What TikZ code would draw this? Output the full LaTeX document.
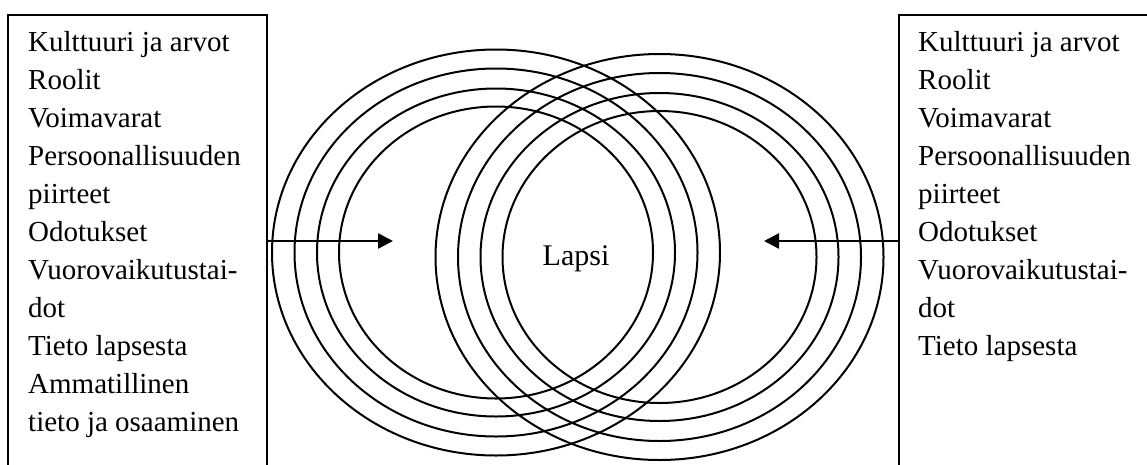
\documentclass[tikz,border=0pt]{standalone}
\usepackage{fontspec}
\setmainfont{Liberation Serif}
\usetikzlibrary{shapes.geometric,arrows.meta}
\tikzset{
  panel/.style={draw=black, line width=2.4pt, inner sep=0pt, anchor=north west, minimum width=320pt, minimum height=480pt},
  list/.style={anchor=north west, inner sep=0pt, align=left, font=\fontsize{29}{38}\selectfont},
  ring/.style={draw=black, ellipse, line width=2pt, inner sep=0pt},
  r1/.style={ring, minimum width=314pt, minimum height=292pt},
  r2/.style={ring, minimum width=358pt, minimum height=328pt},
  r3/.style={ring, minimum width=403pt, minimum height=368pt},
  r4/.style={ring, minimum width=448pt, minimum height=406pt},
  arr/.style={line width=2.6pt, -{Triangle[length=15pt, width=15pt]}},
  lbl/.style={anchor=base, inner sep=0pt, font=\fontsize{30}{36}\selectfont}
}
\begin{document}
\begin{tikzpicture}[x=1pt, y=-1pt]
\useasboundingbox (0,0) rectangle (1147,464);
\clip (0,0) rectangle (1147,464);
% left rings
\node[r1] (l1) at (496,252.5) {};
\node[r2] (l2) at (496,252.5) {};
\node[r3] (l3) at (496,252.5) {};
\node[r4] (l4) at (496,252.5) {};
% right rings
\node[r1] (q1) at (659.5,257) {};
\node[r2] (q2) at (659.5,257) {};
\node[r3] (q3) at (659.5,257) {};
\node[r4] (q4) at (659.5,257) {};
\node[lbl] (lapsi) at (576,265) {Lapsi};
% panels
\node[panel, minimum width=259pt] (lbox) at (7,14) {};
\node[panel] (rbox) at (897.5,14) {};
\node[list] (ltext) at (28,31) {Kulttuuri ja arvot\\Roolit\\Voimavarat\\Persoonallisuuden\\piirteet\\Odotukset\\Vuorovaikutustai-\\dot\\Tieto lapsesta\\Ammatillinen\\tieto ja osaaminen};
\node[list] (rtext) at (918,31) {Kulttuuri ja arvot\\Roolit\\Voimavarat\\Persoonallisuuden\\piirteet\\Odotukset\\Vuorovaikutustai-\\dot\\Tieto lapsesta};
% arrows
\coordinate (ltip) at (393,241);
\coordinate (rtip) at (764,241);
\draw[arr] (lbox.east |- ltip) -- (ltip);
\draw[arr] (rbox.west |- rtip) -- (rtip);
\end{tikzpicture}
\end{document}
